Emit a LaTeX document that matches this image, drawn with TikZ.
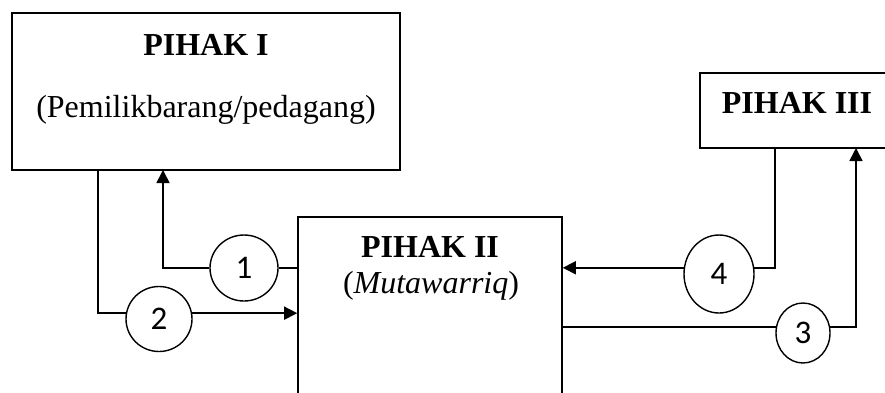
\documentclass[tikz,border=0pt]{standalone}
\usepackage{fontspec}
\setmainfont{Liberation Serif}
\newfontfamily\numfont{Carlito}
\usetikzlibrary{arrows.meta,shapes.geometric}
\tikzset{
  box/.style={draw, line width=1.6pt, rectangle, inner sep=0pt},
  title/.style={anchor=base, font=\fontsize{32}{38}\selectfont\bfseries, inner sep=0pt},
  sub/.style={anchor=base, font=\fontsize{32}{38}\selectfont, inner sep=0pt},
  num/.style={draw, ellipse, line width=1.4pt, inner sep=0pt, font=\numfont\fontsize{33}{38}\selectfont},
  conn/.style={line width=1.6pt},
  arr/.style={line width=1.6pt, -{Triangle[length=13pt,width=13pt]}}
}
\begin{document}
\begin{tikzpicture}[x=1pt,y=-1pt]
\useasboundingbox (0,0) rectangle (885,392);
\clip (0,0) rectangle (885,392);
% boxes
\node[box, minimum width=388, minimum height=157] (I) at (206,91.5) {};
\node[box, minimum width=264, minimum height=203] (II) at (430,318.5) {};
\node[box, minimum width=220, minimum height=75] (III) at (810,110.5) {};
% texts
\node[title] (tI) at (206,55) {PIHAK I};
\node[sub] (sI) at (206,117) {(Pemilikbarang/pedagang)};
\node[title] (tII) at (430,257) {PIHAK II};
\node[sub] (sII) at (431,293) {(\textit{Mutawarriq})};
\node[title] (tIII) at (797,113) {PIHAK III};
% numbered circles
\node[num, minimum width=68, minimum height=66] (c1) at (244,268) {1};
\node[num, minimum width=66, minimum height=65] (c2) at (159,319) {2};
\node[num, minimum width=54, minimum height=60] (c3) at (803,333) {3};
\node[num, minimum width=70, minimum height=78] (c4) at (719,274) {4};
% connector end points on box borders
\coordinate (a1) at (163,170);
\coordinate (s2) at (98,170);
\coordinate (s4) at (775,148);
\coordinate (e3) at (856,148);
% 1: PIHAK II -> PIHAK I
\draw[conn] (II.west |- c1.east) -- (c1.east);
\draw[arr] (c1.west) -| (a1);
% 2: PIHAK I -> PIHAK II
\draw[conn] (s2) |- (c2.170);
\draw[arr] (c2.10) -- (c2.10 -| II.west);
% 4: PIHAK III -> PIHAK II
\draw[conn] (s4) |- (c4.10);
\draw[arr] (c4.170) -- (c4.170 -| II.east);
% 3: PIHAK II -> PIHAK III
\draw[conn] (II.east |- c3.167) -- (c3.167);
\draw[arr] (c3.13) -| (e3);
\end{tikzpicture}
\end{document}
